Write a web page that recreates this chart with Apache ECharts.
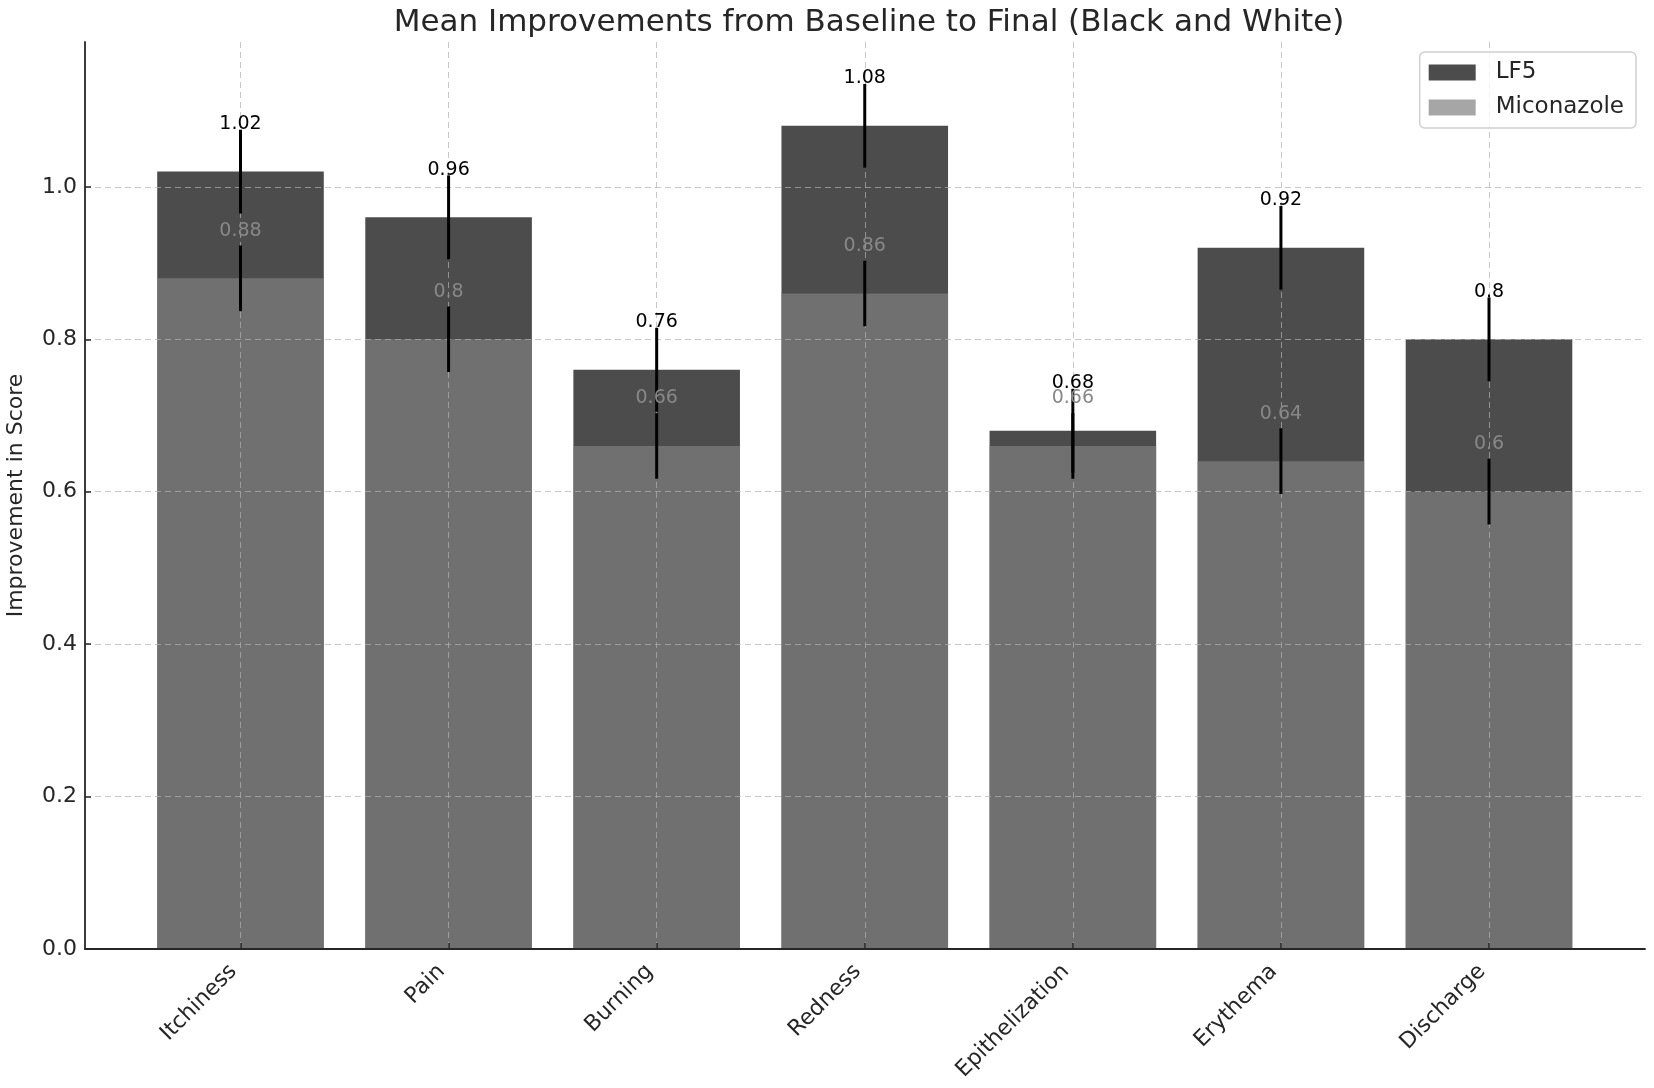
<!DOCTYPE html>
<html>
<head>
<meta charset="utf-8">
<script src="https://cdn.jsdelivr.net/npm/echarts@6/dist/echarts.min.js"></script>
<style>
  html, body { margin: 0; padding: 0; background: #fff; }
  #chart { width: 1654px; height: 1088px; }
</style>
</head>
<body>
<div id="chart"></div>
<script>
  // Data.
  const categories = ['Itchiness', 'Pain', 'Burning', 'Redness', 'Epithelization', 'Erythema', 'Discharge'];
  const lf5Values = [1.02, 0.96, 0.76, 1.08, 0.68, 0.92, 0.8];
  const miconazoleValues = [0.88, 0.8, 0.66, 0.86, 0.66, 0.64, 0.6];
  const lf5Errors = [0.055, 0.055, 0.055, 0.055, 0.055, 0.055, 0.055];
  const miconazoleErrors = [0.043, 0.043, 0.043, 0.043, 0.043, 0.043, 0.043];
  const yTicks = [0, 0.2, 0.4, 0.6, 0.8, 1.0];
  const labelOffset = 0.05;

  const textColor = '#262626';
  const gridLine = { color: 'rgba(176,176,176,0.7)', width: 1, type: [6, 4] };
  const font = 'DejaVu Sans';

  // Error bar plus value label for one series.
  function errorSeries(name, values, errors, labelColor) {
    return {
      type: 'custom',
      name: name + ' err',
      xAxisIndex: 1,
      yAxisIndex: 1,
      z: 5,
      clip: false,
      data: values.map((v, i) => [i, v, errors[i]]),
      renderItem: function (params, api) {
        const i = api.value(0), v = api.value(1), e = api.value(2);
        const top = api.coord([i, v + e]);
        const bottom = api.coord([i, v - e]);
        const lab = api.coord([i, v + labelOffset]);
        return {
          type: 'group',
          children: [
            { type: 'line', shape: { x1: top[0], y1: top[1], x2: bottom[0], y2: bottom[1] },
              style: { stroke: '#000', lineWidth: 3 } },
            { type: 'text', x: lab[0], y: lab[1],
              style: { text: String(v), fill: labelColor, fontSize: 19, fontFamily: font,
                       align: 'center', verticalAlign: 'bottom' } }
          ]
        };
      }
    };
  }

  const option = {
    animation: false,
    backgroundColor: '#fff',
    title: {
      text: 'Mean Improvements from Baseline to Final (Black and White)',
      left: 864,
      top: 2,
      textAlign: 'center',
      textStyle: { fontFamily: font, fontSize: 31, fontWeight: 'normal', color: textColor }
    },
    legend: {
      data: ['LF5', 'Miconazole'],
      orient: 'vertical',
      right: 18,
      top: 52,
      icon: 'rect',
      itemWidth: 47,
      itemHeight: 16,
      itemGap: 12,
      padding: [9, 12, 9, 9],
      backgroundColor: 'rgba(255,255,255,0.8)',
      borderColor: '#d0d0d0',
      borderWidth: 1.5,
      borderRadius: 5,
      z: 6,
      textStyle: { fontFamily: font, fontSize: 23, color: textColor, padding: [0, 0, 0, 15] }
    },
    grid: [
      { left: 85, right: 9, top: 42, bottom: 139, outerBoundsMode: 'none' },
      { left: 240.5, right: 165, top: 42, bottom: 139, outerBoundsMode: 'none' }
    ],
    xAxis: [
      {
        type: 'value', gridIndex: 0, min: 0, max: 1, z: 3,
        axisLine: { show: true, lineStyle: { color: textColor, width: 1.8 } },
        axisTick: { show: false }, axisLabel: { show: false }, splitLine: { show: false }
      },
      {
        type: 'category', gridIndex: 1, data: categories, boundaryGap: false, z: 3,
        axisLine: { show: false },
        axisTick: { show: true, inside: true, length: 6, lineStyle: { color: textColor, width: 1.5 } },
        axisLabel: {
          interval: 0, rotate: 45, margin: 12, padding: [0, 10, 0, 0],
          fontFamily: font, fontSize: 22, color: textColor
        },
        splitLine: { show: true, lineStyle: gridLine }
      }
    ],
    yAxis: [
      {
        type: 'value', gridIndex: 0, min: 0, max: 1.19, interval: 0.2, z: 3,
        name: 'Improvement in Score',
        nameLocation: 'middle',
        nameGap: 58,
        nameTextStyle: { fontFamily: font, fontSize: 22, color: textColor },
        axisLine: { show: true, lineStyle: { color: textColor, width: 1.8 } },
        axisTick: { show: true, inside: true, length: 6, customValues: yTicks, lineStyle: { color: textColor, width: 1.5 } },
        axisLabel: {
          customValues: yTicks, margin: 8, fontFamily: font, fontSize: 22, color: textColor,
          formatter: v => v.toFixed(1)
        },
        splitLine: { show: true, showMinLine: false, lineStyle: gridLine }
      },
      { type: 'value', gridIndex: 1, min: 0, max: 1.19, show: false }
    ],
    series: [
      {
        type: 'bar', name: 'LF5', xAxisIndex: 1, yAxisIndex: 1,
        data: lf5Values, barWidth: 166.6, barGap: '-100%',
        itemStyle: { color: 'rgba(0,0,0,0.7)' }
      },
      {
        type: 'bar', name: 'Miconazole', xAxisIndex: 1, yAxisIndex: 1,
        data: miconazoleValues, barWidth: 166.6, barGap: '-100%',
        itemStyle: { color: 'rgba(128,128,128,0.7)' }
      },
      errorSeries('LF5', lf5Values, lf5Errors, '#000'),
      errorSeries('Miconazole', miconazoleValues, miconazoleErrors, '#888')
    ]
  };

  echarts.init(document.getElementById('chart')).setOption(option);
</script>
</body>
</html>
